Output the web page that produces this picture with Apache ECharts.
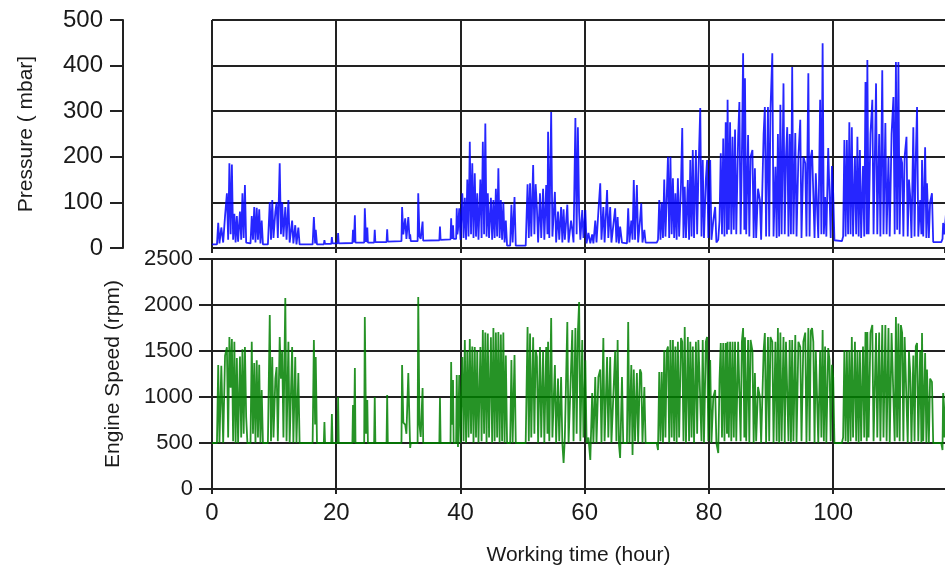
<!DOCTYPE html>
<html>
<head>
<meta charset="utf-8">
<script src="https://cdn.jsdelivr.net/npm/echarts@6/dist/echarts.min.js"></script>
<style>
  html, body { margin: 0; padding: 0; background: #fff; }
  #chart { width: 945px; height: 574px; }
</style>
</head>
<body>
<div id="chart"></div>
<script>
// working time (hour), shared by both logs
const hours = [
  0, 0.8, 1.0, 1.2, 1.5, 1.8, 2.1, 2.4, 2.6, 2.8,
  3.0, 3.2, 3.4, 3.6, 3.8, 4.0, 4.2, 4.5, 4.7, 4.9,
  5.1, 5.3, 5.5, 5.7, 6.2, 6.4, 6.6, 6.8, 7.0, 7.2,
  7.4, 7.6, 7.8, 8.0, 8.2, 9.0, 9.3, 9.5, 9.7, 9.9,
  10.2, 10.4, 10.6, 10.9, 11.1, 11.3, 11.5, 11.8, 12.0, 12.3,
  12.5, 12.9, 13.1, 13.4, 13.6, 13.9, 14.1,
  16.2, 16.4, 16.6, 16.7, 16.9, 18.0, 18.1, 18.2, 19.2, 19.3,
  19.4, 20.2, 20.3, 20.4, 22.6, 22.7, 22.85, 23.0, 23.1, 24.5,
  24.6, 24.8, 25.0, 25.1, 26.1, 26.2, 26.3, 28.1, 28.2, 28.3,
  30.5, 30.6, 30.8, 31.1, 31.3, 31.6, 31.8, 31.9, 32.0, 33.1,
  33.2, 33.4, 33.6, 33.9, 34.0, 36.6, 36.7, 36.8, 38.4, 38.5,
  38.6, 38.8, 38.9, 39.3, 39.4, 39.5, 39.6, 39.8, 40.0,
  40.1, 40.3, 40.5, 40.7, 40.9, 41.1, 41.3, 41.5, 41.7, 41.9,
  42.1, 42.3, 42.5, 42.7, 42.9, 43.2, 43.4, 43.6, 43.8, 44.0,
  44.2, 44.4, 44.6, 44.9, 45.1, 45.3, 45.5, 45.7, 45.9, 46.1,
  46.3, 46.5, 46.7, 46.9, 47.1, 47.3, 47.5, 48.0, 48.2, 48.4,
  48.7, 48.9, 50.5, 50.8, 51.0, 51.2, 51.4, 51.7, 51.9, 52.1,
  52.3, 52.5, 52.8, 53.0, 53.3, 53.5, 53.8, 54.0, 54.1, 54.3,
  54.6, 54.8, 55.2, 55.4, 55.7, 55.9, 56.2, 56.4, 56.6, 56.8,
  57.2, 57.4, 57.8, 58.0, 58.2, 58.5, 58.7, 58.9, 59.1, 59.3,
  59.6, 59.8, 60.1, 60.3, 60.6, 60.9, 61.2, 61.4, 61.7, 61.9,
  62.2, 62.5, 62.7, 63.0, 63.2, 63.6, 63.8, 64.1, 64.3, 64.9,
  65.1, 65.3, 65.5, 65.7, 66.0, 66.2, 66.8, 67.0, 67.2, 67.5,
  67.7, 67.9, 68.1, 68.4, 68.6, 68.9, 69.1, 69.3, 69.6, 69.8,
  71.6,
  71.8, 72.0, 72.2, 72.4, 72.6, 72.8, 73.0, 73.2, 73.4, 73.6,
  73.8, 74.0, 74.2, 74.4, 74.6, 74.8, 75.0, 75.2, 75.5, 75.7,
  75.9, 76.1, 76.3, 76.6, 76.8, 77.0, 77.2, 77.4, 77.6, 77.9,
  78.1, 78.3, 78.6, 78.8, 79.0, 79.2, 79.5, 79.7, 79.9, 80.2,
  80.4, 80.7, 81.0, 81.2, 81.5, 81.7, 81.9, 82.1, 82.3, 82.5,
  82.7, 82.9, 83.0, 83.2, 83.4, 83.6, 83.8, 84.0, 84.2, 84.4,
  84.7, 84.9, 85.1, 85.3, 85.5, 85.7, 85.8, 86.0, 86.3, 86.5,
  86.7, 87.0, 87.2, 87.4, 87.6, 87.9, 88.2, 88.4, 88.6, 88.8,
  89.0, 89.2, 89.5, 89.7, 89.9, 90.2, 90.4, 90.7, 90.9, 91.1,
  91.3, 91.5, 91.7, 92.0, 92.2, 92.4, 92.6, 92.8, 93.0, 93.2,
  93.4, 93.6, 93.9, 94.1, 94.4, 94.7, 94.9, 95.2, 95.5, 95.7,
  96.0, 96.2, 96.4, 96.6, 96.8, 97.0, 97.2, 97.4, 97.6, 97.9,
  98.1, 98.3, 98.5, 98.7, 98.9, 99.2, 99.4, 99.6, 99.8, 100.0,
  100.2, 101.4,
  101.6, 101.8, 102.0, 102.2, 102.4, 102.6, 102.8, 103.0, 103.2, 103.5,
  103.7, 103.9, 104.1, 104.3, 104.5, 104.8, 105.0, 105.2, 105.4, 105.5,
  105.7, 106.0, 106.3, 106.5, 106.9, 107.1, 107.4, 107.6, 107.9, 108.1,
  108.4, 108.6, 108.9, 109.1, 109.4, 109.7, 109.9, 110.1, 110.3, 110.5,
  110.7, 110.9, 111.1, 111.3, 111.5, 111.8, 112.0, 112.2, 112.4, 112.6,
  112.9, 113.1, 113.3, 113.5, 113.7, 114.0, 114.2, 114.3, 114.5, 114.8,
  115.0, 115.1, 115.4, 115.6, 115.9, 116.1, 117.4, 117.6, 117.7, 117.9,
  118.2
];

// Pressure (mbar)
const pressure = [
  8, 8, 55, 10, 45, 12, 70, 120, 18, 186,
  30, 183, 18, 75, 12, 70, 14, 80, 18, 120,
  22, 138, 12, 8, 10, 70, 18, 90, 12, 88,
  18, 85, 10, 60, 8, 8, 100, 18, 105, 22,
  80, 100, 22, 186, 30, 100, 25, 90, 18, 105,
  12, 60, 10, 50, 8, 45, 8,
  8, 68, 10, 40, 8, 8, 17, 9, 9, 24,
  10, 10, 33, 10, 11, 40, 12, 72, 12, 12,
  87, 13, 45, 12, 12, 40, 13, 13, 41, 14,
  15, 90, 30, 65, 20, 68, 20, 30, 15, 15,
  120, 25, 20, 58, 16, 17, 47, 18, 19, 65,
  20, 50, 20, 20, 87, 30, 40, 87, 18,
  18, 120, 22, 110, 18, 150, 25, 233, 30, 186,
  22, 164, 25, 120, 18, 150, 22, 233, 30, 273,
  25, 120, 22, 110, 18, 105, 22, 130, 25, 175,
  22, 105, 18, 100, 12, 60, 5, 5, 95, 12,
  112, 5, 5, 140, 22, 142, 25, 182, 30, 140,
  90, 12, 120, 22, 130, 18, 138, 30, 255, 22,
  298, 25, 123, 12, 80, 18, 90, 12, 85, 18,
  95, 12, 60, 40, 12, 285, 30, 265, 80, 18,
  83, 22, 83, 10, 33, 10, 30, 10, 60, 12,
  80, 142, 18, 90, 12, 127, 22, 90, 12, 87,
  12, 68, 10, 47, 12, 10, 10, 87, 12, 60,
  18, 149, 18, 138, 12, 60, 98, 12, 40, 12,
  12,
  18, 105, 18, 100, 22, 150, 25, 110, 200, 22,
  200, 30, 153, 22, 120, 18, 153, 25, 140, 263,
  22, 134, 22, 149, 18, 193, 25, 215, 22, 215,
  30, 160, 307, 25, 193, 22, 150, 193, 22, 193,
  18, 60, 90, 12, 18, 60, 208, 30, 240, 25,
  276, 30, 325, 40, 276, 30, 244, 40, 260, 30,
  244, 320, 30, 200, 427, 40, 372, 30, 248, 25,
  200, 215, 22, 175, 22, 130, 105, 18, 22, 250,
  309, 25, 309, 25, 300, 427, 25, 178, 22, 250,
  25, 314, 30, 361, 30, 200, 265, 25, 250, 30,
  397, 30, 252, 25, 200, 281, 22, 200, 186, 25,
  383, 25, 200, 215, 215, 22, 164, 164, 22, 325,
  30, 449, 30, 112, 25, 219, 219, 22, 180, 120,
  17, 15,
  25, 237, 25, 237, 30, 276, 30, 265, 25, 200,
  30, 244, 25, 215, 22, 180, 25, 364, 30, 412,
  30, 250, 325, 30, 361, 30, 250, 25, 390, 30,
  274, 30, 200, 25, 250, 331, 30, 408, 40, 408,
  30, 200, 186, 25, 200, 244, 25, 150, 112, 22,
  265, 25, 200, 309, 25, 105, 30, 193, 25, 221,
  22, 142, 22, 100, 120, 13, 13, 20, 55, 30,
  83
];

// Engine speed (rpm)
const speed = [
  500, 500, 1348, 500, 1340, 500, 1450, 1540, 560, 1652,
  1100, 1630, 520, 1600, 500, 1424, 500, 1440, 560, 1520,
  600, 1543, 783, 500, 500, 1600, 600, 1370, 500, 1400,
  560, 1350, 500, 1076, 500, 500, 1890, 520, 1435, 560,
  1200, 1326, 520, 1652, 1200, 1500, 560, 2076, 520, 1600,
  500, 1543, 500, 1435, 500, 1260, 500,
  500, 1620, 700, 1435, 500, 500, 728, 500, 500, 815,
  500, 500, 1000, 500, 500, 913, 500, 1315, 500, 500,
  1870, 600, 967, 500, 500, 1000, 500, 500, 1022, 500,
  500, 1348, 722, 700, 600, 1260, 700, 446, 500, 500,
  2087, 700, 565, 1098, 500, 500, 989, 500, 500, 1380,
  700, 1185, 500, 500, 1240, 700, 456, 1240, 500,
  500, 1435, 520, 1620, 500, 1500, 560, 1630, 600, 1550,
  500, 1543, 560, 1500, 500, 1543, 520, 1728, 600, 1700,
  500, 1690, 560, 1650, 500, 1750, 520, 1700, 560, 1706,
  500, 1680, 520, 1700, 500, 1450, 500, 500, 1402, 500,
  1456, 500, 500, 1761, 520, 1690, 560, 1650, 600, 1511,
  1435, 500, 1543, 560, 1500, 500, 1543, 600, 1600, 520,
  1858, 560, 1348, 500, 1200, 520, 1217, 500, 283, 560,
  1815, 500, 1300, 1728, 520, 1750, 600, 1700, 2033, 520,
  1620, 560, 1400, 500, 560, 315, 1043, 500, 1217, 500,
  1217, 1300, 500, 1641, 520, 1435, 560, 1435, 500, 1500,
  520, 1620, 500, 337, 1217, 500, 500, 1815, 500, 1348,
  370, 1300, 520, 1260, 500, 1300, 1260, 500, 1109, 500,
  500,
  424, 1272, 520, 1272, 500, 1511, 560, 1500, 1550, 500,
  1620, 560, 1620, 520, 1550, 500, 1600, 560, 1641, 1600,
  520, 1761, 500, 1652, 520, 1600, 560, 1550, 500, 1600,
  600, 1620, 1620, 520, 1620, 500, 1600, 1652, 520, 1402,
  500, 1000, 1076, 500, 391, 1185, 1587, 560, 1587, 520,
  1587, 600, 1600, 560, 1600, 520, 1600, 560, 1600, 520,
  1600, 1600, 520, 1600, 1750, 560, 1650, 520, 1620, 500,
  1620, 1500, 500, 1260, 520, 1109, 1000, 500, 500, 1500,
  1695, 500, 1652, 520, 1652, 1600, 500, 1600, 520, 1750,
  500, 1700, 520, 1652, 500, 1600, 1620, 520, 1620, 500,
  1620, 520, 1673, 500, 1600, 1543, 520, 1600, 1700, 500,
  1750, 520, 1720, 1750, 1600, 500, 1500, 1511, 500, 1511,
  560, 1728, 520, 1550, 500, 1532, 1400, 520, 1350, 1217,
  500, 500,
  560, 1511, 520, 1500, 500, 1511, 520, 1652, 560, 1600,
  520, 1511, 500, 1511, 520, 1550, 560, 1706, 520, 1706,
  560, 1700, 1782, 520, 1695, 560, 1700, 520, 1782, 560,
  1782, 520, 1750, 500, 1695, 1700, 520, 1870, 560, 1800,
  520, 1782, 1700, 520, 1652, 1652, 500, 1500, 1260, 500,
  1450, 520, 1550, 1587, 520, 1500, 500, 1695, 520, 1478,
  500, 1300, 500, 1200, 1163, 500, 500, 424, 1043, 560,
  1200
];

const FONT = '"Liberation Sans", Arial, sans-serif';
const INK = '#1a1a1a';
const gridLine = { color: '#222', width: 2 };
const plain = (v) => String(v);

const chart = echarts.init(document.getElementById('chart'));

const option = {
  animation: false,
  grid: [
    { left: 212, right: 0, top: 20, height: 228 },
    { left: 212, right: 0, top: 259, height: 230 }
  ],
  xAxis: [
    {
      gridIndex: 0,
      type: 'value',
      min: 0,
      max: 118,
      interval: 20,
      axisLine: { onZero: false, lineStyle: gridLine },
      axisTick: { length: 5, lineStyle: gridLine },
      axisLabel: { show: false },
      splitLine: { show: true, showMaxLine: false, lineStyle: gridLine }
    },
    {
      gridIndex: 1,
      type: 'value',
      min: 0,
      max: 118,
      interval: 20,
      axisLine: { onZero: false, lineStyle: gridLine },
      axisTick: { length: 5, lineStyle: gridLine },
      axisLabel: {
        color: INK, fontFamily: FONT, fontSize: 24, margin: 12,
        showMaxLabel: false, formatter: plain
      },
      splitLine: { show: true, showMaxLine: false, lineStyle: gridLine },
      name: 'Working time (hour)',
      nameLocation: 'middle',
      nameGap: 56,
      nameTextStyle: { color: INK, fontFamily: FONT, fontSize: 21 }
    }
  ],
  yAxis: [
    {
      gridIndex: 0,
      type: 'value',
      min: 0,
      max: 500,
      interval: 100,
      offset: 89,
      axisLine: { show: true, onZero: false, lineStyle: gridLine },
      axisTick: { show: true, length: 13, lineStyle: gridLine },
      axisLabel: { color: INK, fontFamily: FONT, fontSize: 24, margin: 20, formatter: plain },
      splitLine: { show: true, lineStyle: gridLine },
      name: 'Pressure ( mbar]',
      nameLocation: 'middle',
      nameGap: 86,
      nameTextStyle: { color: INK, fontFamily: FONT, fontSize: 21 }
    },
    {
      // short stubs that carry the grid lines a little left of x = 0
      gridIndex: 0,
      type: 'value',
      min: 0,
      max: 500,
      interval: 100,
      axisLine: { show: false, onZero: false },
      axisTick: { show: true, length: 12, lineStyle: gridLine },
      axisLabel: { show: false },
      splitLine: { show: false }
    },
    {
      gridIndex: 1,
      type: 'value',
      min: 0,
      max: 2500,
      interval: 500,
      axisLine: { show: true, onZero: false, lineStyle: gridLine },
      axisTick: { show: true, length: 13, lineStyle: gridLine },
      axisLabel: { color: INK, fontFamily: FONT, fontSize: 22, margin: 19, formatter: plain },
      splitLine: { show: true, lineStyle: gridLine },
      name: 'Engine Speed (rpm)',
      nameLocation: 'middle',
      nameGap: 88,
      nameTextStyle: { color: INK, fontFamily: FONT, fontSize: 21 }
    }
  ],
  series: [
    {
      name: 'Pressure',
      type: 'line',
      xAxisIndex: 0,
      yAxisIndex: 0,
      showSymbol: false,
      data: hours.map((h, i) => [h, pressure[i]]),
      lineStyle: { color: '#0000ff', width: 1.8, opacity: 0.85 },
      z: 3
    },
    {
      name: 'Engine Speed',
      type: 'line',
      xAxisIndex: 1,
      yAxisIndex: 2,
      showSymbol: false,
      data: hours.map((h, i) => [h, speed[i]]),
      lineStyle: { color: '#008000', width: 1.8, opacity: 0.85 },
      z: 3
    }
  ]
};

chart.setOption(option);
</script>
</body>
</html>
